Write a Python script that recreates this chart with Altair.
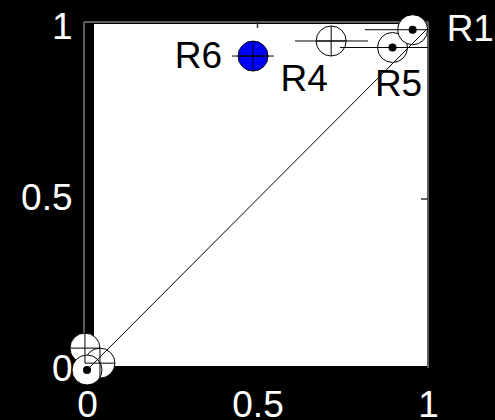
import altair as alt
import pandas as pd

# Point estimates (x, y), marker style and horizontal error ranges
names = ["R2", "R3", "R7", "R6", "R4", "R5", "R1"]
point_x = [-0.006, 0.038, 0.0, 0.487, 0.716, 0.896, 0.955]
point_y = [0.064, 0.020, 0.0, 0.918, 0.962, 0.943, 0.995]
marker = ["plus", "plus", "dot", "plus", "plus", "dot", "dot"]
fill = ["white", "white", "white", "blue", "white", "white", "white"]

err_names = ["R6", "R4", "R5", "R1"]
err_lo = [0.425, 0.610, 0.742, 0.815]
err_hi = [0.548, 0.824, 1.000, 1.000]

diag_x = [0.0, 1.0]
diag_y = [0.0, 1.0]

tick_values = [0, 0.5, 1]
labelled = ["R1", "R4", "R5", "R6"]

pts = pd.DataFrame({"name": names, "x": point_x, "y": point_y,
                    "marker": marker, "fill": fill})
errs = pd.DataFrame({"name": err_names, "lo": err_lo, "hi": err_hi})
errs = errs.merge(pts[["name", "y"]], on="name")
diag = pd.DataFrame({"x": diag_x, "y": diag_y})

W, H = 350, 355
FONT = "Liberation Sans"
FS = 37

xs = alt.Scale(domain=[-0.02053, 1.00587], nice=False, zero=False)
ys = alt.Scale(domain=[-0.01462, 1.02339], nice=False, zero=False)

x_axis = alt.Axis(values=tick_values, title=None, domain=False, ticks=False,
                  tickSize=0, grid=False, labelFontSize=FS, labelFont=FONT,
                  labelColor="white", labelPadding=12, labelFlush=False,
                  format="~g")
y_axis = alt.Axis(values=tick_values, title=None, domain=False, ticks=False,
                  tickSize=0, grid=False, labelFontSize=FS, labelFont=FONT,
                  labelColor="white", labelPadding=8, labelFlush=False,
                  format="~g")

X = alt.X("x:Q", scale=xs, axis=x_axis)
Y = alt.Y("y:Q", scale=ys, axis=y_axis)

base = alt.Chart(pts)

# white panel and grey frame
one = pd.DataFrame({"k": [0]})
panel = alt.Chart(one).mark_rect(color="white").encode(
    x=alt.value(14), x2=alt.value(347), y=alt.value(4), y2=alt.value(346))
frame_color = "#5c5c5c"
frame_left = alt.Chart(one).mark_rule(color=frame_color, strokeWidth=2).encode(
    x=alt.value(4), y=alt.value(2), y2=alt.value(348))
frame_top = alt.Chart(one).mark_rule(color=frame_color, strokeWidth=2).encode(
    x=alt.value(4), x2=alt.value(348), y=alt.value(2))
frame_right = alt.Chart(one).mark_rule(color=frame_color, strokeWidth=2).encode(
    x=alt.value(348), y=alt.value(2), y2=alt.value(348))
top_tick = alt.Chart(pd.DataFrame({"x": [0.5]})).mark_rule(
    color="#333333", strokeWidth=1.5).encode(
    x=alt.X("x:Q", scale=xs, axis=x_axis), y=alt.value(2), y2=alt.value(8))
right_tick = alt.Chart(pd.DataFrame({"y": [0.5]})).mark_rule(
    color="#333333", strokeWidth=1.5).encode(
    y=alt.Y("y:Q", scale=ys, axis=y_axis), x=alt.value(341), x2=alt.value(348))

circles = base.mark_point(shape="circle", filled=True, size=900,
                          stroke="black", strokeWidth=1, opacity=1).encode(
    x=X, y=Y,
    fill=alt.Fill("fill:N", scale=None),
)
plus = base.transform_filter(alt.datum.marker == "plus").mark_point(
    shape="M-1,0L1,0M0,-1L0,1", size=900, color="black",
    strokeWidth=1, filled=False, opacity=1).encode(x=X, y=Y)

errbars = alt.Chart(errs).mark_rule(color="black", strokeWidth=1).encode(
    x=alt.X("lo:Q", scale=xs, axis=x_axis), x2="hi:Q",
    y=alt.Y("y:Q", scale=ys, axis=y_axis))

diag_line = alt.Chart(diag).mark_line(color="black", strokeWidth=1).encode(
    x=alt.X("x:Q", scale=xs, axis=x_axis),
    y=alt.Y("y:Q", scale=ys, axis=y_axis))

dots = base.transform_filter(alt.datum.marker == "dot").mark_point(
    shape="circle", filled=True, size=64, color="black",
    opacity=1).encode(x=X, y=Y)

# label placement relative to each point: (align, dx, dy, colour)
label_style = {
    "R1": ("left", 34, 0, "white"),
    "R6": ("right", -31, 1, "black"),
    "R4": ("center", -27, 39, "black"),
    "R5": ("center", 6, 38, "black"),
}
texts = []
for nm in labelled:
    align, dx, dy, col = label_style[nm]
    texts.append(
        base.transform_filter(alt.datum.name == nm).mark_text(
            align=align, baseline="middle", dx=dx, dy=dy, font=FONT,
            fontSize=FS, color=col).encode(x=X, y=Y, text="name:N"))

chart = alt.layer(
    panel, frame_left, frame_top, frame_right, top_tick, right_tick,
    circles, plus, errbars, diag_line, dots, *texts
).properties(
    width=W, height=H,
    background="black",
    autosize=alt.AutoSizeParams(type="none"),
    padding={"left": 80, "top": 20, "right": 65, "bottom": 45},
).configure_view(stroke=None, fill=None)

chart.save("out.html", embed_options={"renderer": "svg", "actions": False})
